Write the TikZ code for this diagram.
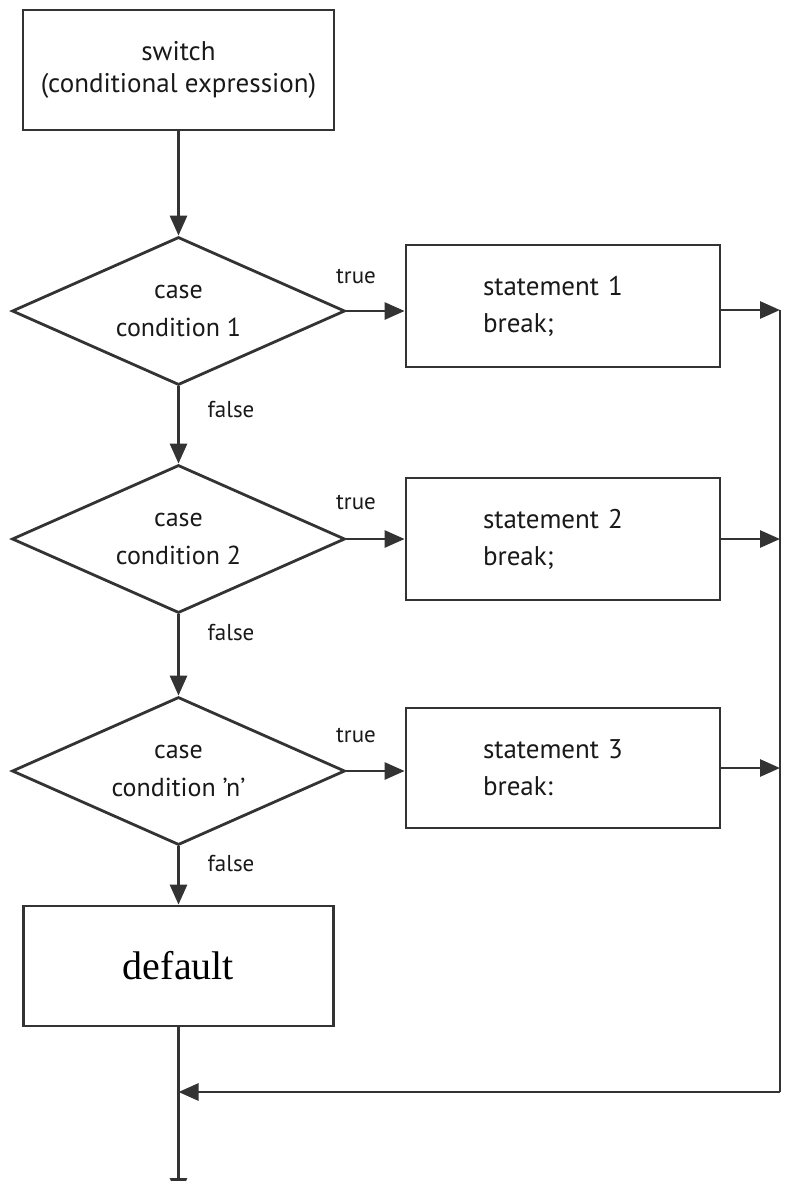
\documentclass[tikz,border=0pt]{standalone}
\usepackage{fontspec}
\setmainfont{PT Sans}
\newfontfamily\serifface{Liberation Serif}
\usetikzlibrary{shapes.geometric,arrows.meta}

\begin{document}
\begin{tikzpicture}[x=1pt,y=-1pt,
  line width=2.8pt,
  every node/.style={text=black!90},
  box/.style={draw=black!80, rectangle, inner sep=0pt, align=center,
    font=\fontsize{27}{32}\selectfont},
  stmt/.style={draw=black!80, rectangle, inner sep=0pt, align=left,
    text width=160pt, minimum width=314pt, minimum height=122pt,
    font=\fontsize{27}{37}\selectfont},
  decision/.style={draw=black!80, diamond, shape aspect=2.25, inner sep=0pt,
    minimum width=333pt, minimum height=148pt, align=center,
    font=\fontsize{26}{38}\selectfont},
  lbl/.style={font=\fontsize{23}{26}\selectfont, inner sep=0pt},
  flow/.style={draw=black!80, -{Triangle[length=20pt,width=17pt]}},
  link/.style={draw=black!80}]

\useasboundingbox (0,0) rectangle (788,1181);

% switch header
\node[box, minimum width=311pt, minimum height=120pt] (sw) at (178.5,70)
  {switch\\(conditional expression)};

% case tests
\node[decision] (d1) at (178.5,311) {case\\condition 1};
\node[decision] (d2) at (178.5,539) {case\\condition 2};
\node[decision] (d3) at (178.5,771) {case\\condition 'n'};

% case bodies
\node[stmt] (s1) at (563,306) {statement 1\\break;};
\node[stmt] (s2) at (563,539) {statement 2\\break;};
\node[stmt, minimum height=120pt] (s3) at (563,768) {statement 3\\break:};

% default branch
\node[box, minimum width=310pt, minimum height=120pt,
  font=\serifface\fontsize{40}{44}\selectfont, text=black] (def) at (178.5,966) {default};

% branch labels
\node[lbl] (t1) at (356,276) {true};
\node[lbl] (t2) at (356,502) {true};
\node[lbl] (t3) at (356,735) {true};
\node[lbl] (f1) at (231,410) {false};
\node[lbl] (f2) at (231,633) {false};
\node[lbl] (f3) at (231,864) {false};

% rail and exit points
\coordinate (railtop) at (780,310);
\coordinate (railbot) at (780,1092);
\coordinate (join) at (178.5,1092);
\coordinate (out) at (178.5,1198);

% main flow
\draw[flow] (sw.south) -- (d1.north);
\draw[flow] (d1.south) -- (d2.north);
\draw[flow] (d2.south) -- (d3.north);
\draw[flow] (d3.south) -- (def.north);

% true branches
\draw[flow] (d1.east) -- (d1.east -| s1.west);
\draw[flow] (d2.east) -- (d2.east -| s2.west);
\draw[flow] (d3.east) -- (d3.east -| s3.west);

% breaks to the rail
\draw[flow] (s1.east |- railtop) -- (railtop);
\draw[flow] (s2.east) -- (s2.east -| railtop);
\draw[flow] (s3.east) -- (s3.east -| railtop);
\draw[link] (railtop) -- (railbot);
\draw[flow] (railbot) -- (join);
\draw[flow] (def.south) -- (out);
\end{tikzpicture}
\end{document}
